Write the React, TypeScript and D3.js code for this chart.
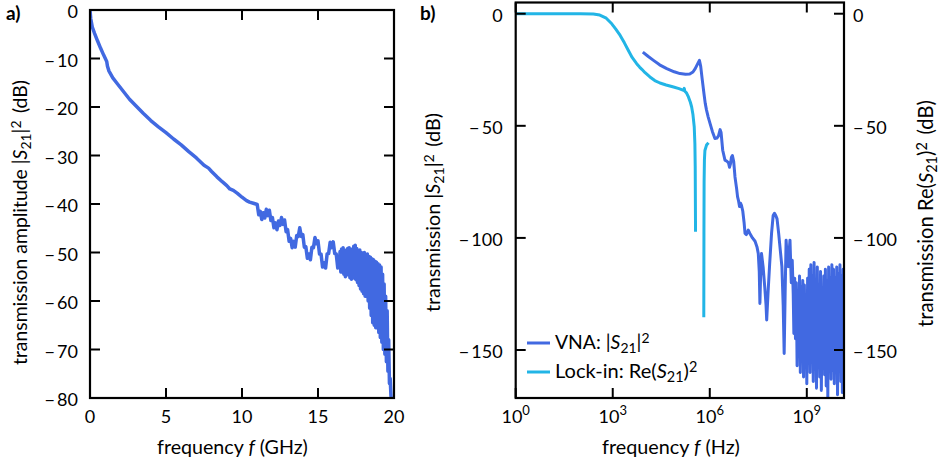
import React, { useLayoutEffect, useRef, useState } from 'react';
import * as d3 from 'd3';

const W = 940;
const H = 463;

// ---------- Panel a data (frequency in GHz, |S21|^2 in dB) ----------
const freqA = [
  0, 0.05, 0.15, 0.3, 0.5, 0.7, 0.9, 1.1, 1.15, 1.25, 1.5, 1.8, 2.2, 2.6, 3.0, 3.5, 4.0, 4.5, 5.0, 5.5,
  6.0, 6.5, 7.0, 7.5, 7.8, 8.0, 8.35, 8.7, 9.0, 9.2, 9.43, 9.7, 10.0, 10.3, 10.5, 10.8,
  11.0, 11.1, 11.2, 11.3, 11.4, 11.5, 11.6, 11.7, 11.8, 11.9, 12.0, 12.1, 12.2, 12.3, 12.4, 12.5, 12.6,
  12.7, 12.8, 12.9, 13.0, 13.1, 13.2, 13.3, 13.4, 13.5, 13.6, 13.7, 13.8, 13.9, 14.0, 14.1, 14.2, 14.3,
  14.4, 14.5, 14.6, 14.7, 14.8, 14.9, 15.0, 15.1, 15.2, 15.3, 15.4, 15.5, 15.6, 15.7, 15.8, 15.9, 16.0,
  16.1, 16.2, 16.3, 16.4,
  16.45, 16.5, 16.55, 16.6, 16.65, 16.7, 16.75, 16.8, 16.85, 16.9, 16.95, 17.0, 17.05, 17.1, 17.15, 17.2,
  17.25, 17.3, 17.35, 17.4, 17.45, 17.5, 17.55, 17.6, 17.65, 17.7, 17.75, 17.8, 17.85, 17.9, 17.95, 18.0,
  18.05, 18.1, 18.15, 18.2, 18.25, 18.3, 18.35, 18.4, 18.45, 18.5, 18.55, 18.6, 18.65, 18.7, 18.75, 18.8,
  18.85, 18.9, 18.95, 19.0, 19.05, 19.1, 19.15, 19.2, 19.25, 19.3, 19.35, 19.4, 19.45, 19.5, 19.55, 19.6,
  19.65, 19.7, 19.75, 19.8, 19.85,
];
const s21A = [
  0, -1.8, -3.5, -4.8, -6.4, -7.9, -9.3, -10.6, -11.6, -12.6, -14.0, -15.2, -16.8, -18.4, -19.7, -21.3,
  -22.8, -24.1, -25.3, -26.6, -27.8, -29.2, -30.5, -32.0, -32.6, -33.3, -34.4, -35.4, -36.2, -36.9, -37.2,
  -37.8, -38.6, -39.3, -39.6, -39.9,
  -40.1, -42.2, -41.5, -43.2, -41.8, -42.9, -41.1, -42.4, -41.3, -43.4, -42.8, -44.9, -43.9, -45.3, -43.5,
  -44.4, -42.8, -44.2, -43.3, -45.7, -45.3, -47.7, -47.1, -49.0, -47.7, -48.9, -46.5, -46.7, -44.9, -46.7,
  -46.3, -48.9, -48.8, -51.2, -50.3, -51.5, -48.9, -49.0, -46.9, -48.2, -47.6, -50.3, -50.3, -53.0, -52.1,
  -53.2, -50.3, -50.2, -47.9, -49.0, -47.8, -50.2, -50.3, -53.2, -52.8,
  -49.8, -54.0, -49.3, -53.5, -49.0, -54.5, -49.5, -55.0, -50.0, -54.0, -49.2, -54.6, -49.0, -55.2, -49.8,
  -55.5, -49.3, -54.8, -48.7, -55.3, -48.5, -55.6, -49.2, -56.2, -49.8, -56.8, -49.5, -57.5, -50.0, -58.0,
  -50.2, -58.5, -50.0, -59.0, -50.5, -58.0, -50.3, -60.0, -50.8, -61.5, -51.0, -63.0, -51.3, -64.5, -51.5,
  -65.0, -51.8, -65.5, -52.0, -64.0, -52.3, -66.5, -52.6, -67.5, -53.0, -68.5, -54.5, -70.0, -56.5, -71.0,
  -59.0, -72.5, -62.0, -74.5, -68.0, -77.0, -76.0, -79.5, -81.0,
];
const ticksAX = [0, 5, 10, 15, 20];
const ticksAY = [0, -10, -20, -30, -40, -50, -60, -70, -80];

// ---------- Panel b data (log10 of frequency in Hz, dB) ----------
const logFreqVNA = [
  3.93, 4.1, 4.26, 4.45, 4.67, 4.9, 5.08, 5.25, 5.38, 5.48, 5.55, 5.62, 5.68, 5.72, 5.76, 5.82, 5.86, 5.9,
  5.95, 6.01, 6.08, 6.16, 6.22, 6.27, 6.32, 6.35, 6.4, 6.47, 6.53, 6.58, 6.61, 6.64, 6.67, 6.7, 6.74, 6.78,
  6.83, 6.86, 6.89, 6.92, 6.95, 6.98, 7.02, 7.06, 7.09, 7.13, 7.19, 7.24, 7.32, 7.4, 7.46, 7.5, 7.53, 7.55,
  7.57, 7.6, 7.65, 7.7, 7.74, 7.76, 7.8, 7.85, 7.91, 7.96, 8.0, 8.04, 8.08, 8.13, 8.18, 8.23, 8.27, 8.3,
  8.33, 8.36, 8.4, 8.43, 8.46, 8.48, 8.52, 8.55, 8.58, 8.6,
  8.625, 8.65, 8.675, 8.7, 8.725, 8.75, 8.775, 8.8, 8.825, 8.85, 8.875, 8.9, 8.925, 8.95, 8.975, 9.0,
  9.025, 9.05, 9.075, 9.1, 9.125, 9.15, 9.175, 9.2, 9.225, 9.25, 9.275, 9.3, 9.325, 9.35, 9.375, 9.4,
  9.425, 9.45, 9.475, 9.5, 9.525, 9.55, 9.575, 9.6, 9.625, 9.65, 9.675, 9.7, 9.725, 9.75, 9.775, 9.8,
  9.825, 9.85, 9.875, 9.9, 9.925, 9.95, 9.975, 10.0, 10.025, 10.05, 10.075, 10.1, 10.125, 10.15,
];
const vnaDB = [
  -17.1, -19.1, -20.8, -22.8, -24.5, -25.9, -26.7, -27.0, -26.9, -26.0, -24.5, -22.5, -20.8, -23.5, -28.5,
  -35.6, -40, -43, -46, -49, -52.5, -55.7, -55.5, -54.5, -51.7, -53, -60.9, -65.3, -65.8, -66.5, -68.5,
  -67, -64, -63.3, -66, -72.8, -78, -81.7, -83.5, -86, -84.5, -85.5, -88, -93, -98, -98.5, -96.5, -98,
  -100, -101.5, -104, -107, -115, -129.2, -118, -107, -113, -122, -130, -136.6, -125, -112, -98, -90, -89,
  -90, -91.5, -98, -105.4, -112.8, -130, -151.5, -125, -101, -110, -112.8, -105, -101, -120, -110, -125,
  -142.6,
  -118, -145, -120, -157, -124, -150, -117, -160, -122, -142, -119, -162, -121, -151, -126, -165,
  -118, -147, -114, -160, -112, -154, -117, -164, -111, -149, -119, -167, -113, -157, -121, -162,
  -115, -168, -123, -150, -117, -161, -114, -166, -119, -171, -113, -156, -118, -163, -112, -159,
  -114, -165, -118, -152, -113, -170, -116, -158, -112, -164, -117, -169, -114, -155,
];
const logFreqLock = [
  0, 1, 2, 2.4, 2.6, 2.8, 2.97, 3.1, 3.23, 3.36, 3.48, 3.6, 3.74, 3.83, 3.9, 4.0, 4.15, 4.3, 4.46, 4.65,
  4.88, 5.05, 5.19, 5.21, 5.23, 5.28, 5.34, 5.4, 5.44, 5.48, 5.52, 5.54, 5.55, 5.56,
  5.7,
  5.815, 5.82, 5.825, 5.835, 5.85, 5.9, 5.96,
];
const lockDB = [
  0, 0, 0, -0.1, -0.6, -2.0, -4.5, -7.0, -9.7, -13, -16.3, -19.5, -22.3, -23.8, -24.8, -26.3, -28.2,
  -29.8, -30.9, -31.8, -32.7, -33.4, -34.2, -33.3, -34.6, -35.3, -37.1, -39.5, -41.6, -45, -50.5, -58, -68,
  -97.3,
  NaN,
  -135.4, -98, -75, -65, -61, -58.6, -57.6,
];
const ticksBXExp = [0, 3, 6, 9];
const ticksBY = [0, -50, -100, -150];

const VNA_COLOR = '#4169e1';
const LOCK_COLOR = '#22b5e6';
const FONT = 'Lato, "DejaVu Sans", sans-serif';
const FS = 18;

const fmt = (v: number) => (v < 0 ? '\u2212\u2009' + Math.abs(v) : String(v));

// |S21|^2 rich text (relative sizes so it scales with the parent text)
const AbsS21Sq = () => (
  <>
    <tspan>|</tspan>
    <tspan fontStyle="italic">S</tspan>
    <tspan dy="0.28em" fontSize="0.72em">21</tspan>
    <tspan dy="-0.2em">|</tspan>
    <tspan dy="-0.45em" fontSize="0.72em">2</tspan>
    <tspan dy="0.32em">{'\u2009'}</tspan>
  </>
);
const ReS21Sq = () => (
  <>
    <tspan>Re(</tspan>
    <tspan fontStyle="italic">S</tspan>
    <tspan dy="0.28em" fontSize="0.72em">21</tspan>
    <tspan dy="-0.2em">)</tspan>
    <tspan dy="-0.45em" fontSize="0.72em">2</tspan>
    <tspan dy="0.32em">{'\u2009'}</tspan>
  </>
);

// Text whose font size is tuned so that its natural length matches the reference length
function FitText({
  target,
  base,
  transform,
  x,
  y,
  children,
}: {
  target: number;
  base: number;
  transform?: string;
  x?: number;
  y?: number;
  children: React.ReactNode;
}) {
  const ref = useRef<SVGTextElement>(null);
  const [fs, setFs] = useState(base);
  useLayoutEffect(() => {
    const el = ref.current;
    if (!el) return;
    const len = el.getComputedTextLength();
    if (len > 0) {
      const nfs = Math.max(base * 0.85, Math.min(base * 1.2, (fs * target) / len));
      if (Math.abs(nfs - fs) > 0.05) setFs(nfs);
    }
  }, [fs]);
  return (
    <text ref={ref} transform={transform} x={x} y={y} fontSize={fs}>
      {children}
    </text>
  );
}

export default function App() {
  // panel a geometry
  const aL = 90, aR = 394, aT = 10, aB = 398;
  const xA = d3.scaleLinear().domain([0, 20]).range([aL, aR]);
  const yA = d3.scaleLinear().domain([-80, 0]).range([aB, aT]);
  const lineA = d3
    .line<number>()
    .x((_, i) => xA(freqA[i]))
    .y((d) => yA(d));

  // panel b geometry
  const bL = 515.7, bR = 844, bT = 2.5, bB = 398;
  const xB = d3.scaleLog().domain([1, Math.pow(10, 10.15)]).range([bL, bR]);
  const yB = d3.scaleLinear().domain([-171.4, 5]).range([bB, bT]);
  const lineVNA = d3
    .line<number>()
    .x((_, i) => xB(Math.pow(10, logFreqVNA[i])))
    .y((d) => yB(d));
  const lineLock = d3
    .line<number>()
    .defined((d) => !isNaN(d))
    .x((_, i) => xB(Math.pow(10, logFreqLock[i])))
    .y((d) => yB(d));

  const TL = 10; // tick length
  const tickStyle = { stroke: '#000', strokeWidth: 2 };

  return (
    <svg
      width={W}
      height={H}
      style={{ position: 'absolute', left: 0, top: 0, display: 'block', background: '#fff' }}
      fontFamily={FONT}
      fontSize={FS}
    >
      <defs>
        <clipPath id="clipA">
          <rect x={aL} y={aT} width={aR - aL} height={aB - aT} />
        </clipPath>
        <clipPath id="clipB">
          <rect x={bL} y={bT} width={bR - bL} height={bB - bT} />
        </clipPath>
      </defs>

      {/* ================= Panel a ================= */}
      <text x={6} y={20} fontWeight="bold" fontSize={19}>a)</text>
      <g clipPath="url(#clipA)">
        <path d={lineA(s21A) || ''} fill="none" stroke={VNA_COLOR} strokeWidth={3.5} strokeLinejoin="round" />
      </g>
      {ticksAX.map((t) => (
        <g key={'ax' + t}>
          <line x1={xA(t)} x2={xA(t)} y1={aB} y2={aB - TL} {...tickStyle} />
          <line x1={xA(t)} x2={xA(t)} y1={aT} y2={aT + TL} {...tickStyle} />
          <text x={xA(t)} y={aB + 25} textAnchor="middle">{fmt(t)}</text>
        </g>
      ))}
      {ticksAY.map((t) => (
        <g key={'ay' + t}>
          <line x1={aL} x2={aL + TL} y1={yA(t)} y2={yA(t)} {...tickStyle} />
          <line x1={aR} x2={aR - TL} y1={yA(t)} y2={yA(t)} {...tickStyle} />
          <text x={aL - 12} y={yA(t) + 8} textAnchor="end">{fmt(t)}</text>
        </g>
      ))}
      <rect x={aL} y={aT} width={aR - aL} height={aB - aT} fill="none" stroke="#000" strokeWidth={2.2} />
      <FitText x={157} y={454} target={151} base={18}>
        frequency <tspan fontStyle="italic">f</tspan> (GHz)
      </FitText>
      <FitText transform="translate(27,365) rotate(-90)" target={285} base={17}>
        transmission amplitude <AbsS21Sq /> (dB)
      </FitText>

      {/* ================= Panel b ================= */}
      <text x={420} y={20} fontWeight="bold" fontSize={19}>b)</text>
      <g clipPath="url(#clipB)">
        <path d={lineVNA(vnaDB) || ''} fill="none" stroke={VNA_COLOR} strokeWidth={3} strokeLinejoin="round" />
        <path d={lineLock(lockDB) || ''} fill="none" stroke={LOCK_COLOR} strokeWidth={3} strokeLinejoin="round" />
      </g>
      {ticksBXExp.map((e) => {
        const x = xB(Math.pow(10, e));
        return (
          <g key={'bx' + e}>
            <line x1={x} x2={x} y1={bB} y2={bB - TL} {...tickStyle} />
            <line x1={x} x2={x} y1={bT} y2={bT + TL} {...tickStyle} />
            <text x={x} y={bB + 25} textAnchor="middle">
              10<tspan dy={-8} fontSize={13}>{e}</tspan>
            </text>
          </g>
        );
      })}
      {ticksBY.map((t) => (
        <g key={'by' + t}>
          <line x1={bL} x2={bL + TL} y1={yB(t)} y2={yB(t)} {...tickStyle} />
          <line x1={bR} x2={bR - TL} y1={yB(t)} y2={yB(t)} {...tickStyle} />
          <text x={bL - 13} y={yB(t) + 8} textAnchor="end">{fmt(t)}</text>
          <text x={bR + 9} y={yB(t) + 8} textAnchor="start">{fmt(t)}</text>
        </g>
      ))}
      <rect x={bL} y={bT} width={bR - bL} height={bB - bT} fill="none" stroke="#000" strokeWidth={2.2} />
      <FitText x={602} y={454} target={138} base={18}>
        frequency <tspan fontStyle="italic">f</tspan> (Hz)
      </FitText>
      <FitText transform="translate(440,312) rotate(-90)" target={199} base={17}>
        transmission <AbsS21Sq /> (dB)
      </FitText>
      <FitText transform="translate(933,327) rotate(-90)" target={227} base={17}>
        transmission <ReS21Sq /> (dB)
      </FitText>

      {/* legend */}
      <line x1={527} x2={550} y1={343} y2={343} stroke={VNA_COLOR} strokeWidth={3} />
      <FitText x={555} y={349} target={97} base={18}>
        VNA: <AbsS21Sq />
      </FitText>
      <line x1={527} x2={550} y1={372} y2={372} stroke={LOCK_COLOR} strokeWidth={3} />
      <FitText x={555} y={378} target={145} base={18}>
        Lock-in: <ReS21Sq />
      </FitText>
    </svg>
  );
}
